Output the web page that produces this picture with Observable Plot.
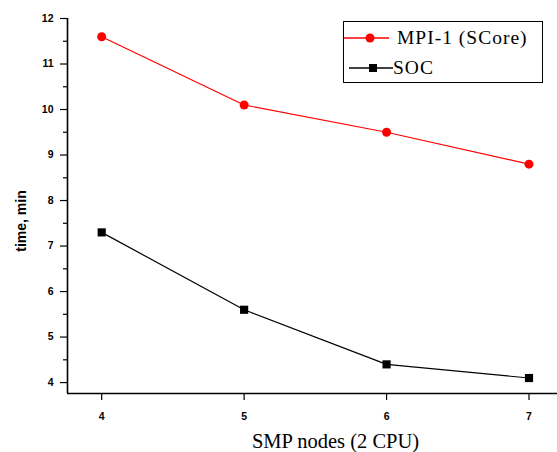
<!DOCTYPE html>
<html><head><meta charset="utf-8">
<script src="https://cdn.jsdelivr.net/npm/d3@7"></script>
<script src="https://cdn.jsdelivr.net/npm/@observablehq/plot@0.6"></script>
<style>
body{margin:0;background:#fff;}
#wrap{position:relative;width:557px;height:452px;}
#legend{position:absolute;left:343px;top:21px;width:200px;height:62px;border:1.5px solid #000;background:#fff;font-family:"Liberation Serif",serif;font-size:19.5px;box-sizing:border-box;}
.row{position:absolute;left:0;display:flex;align-items:center;white-space:nowrap;}
.row svg{display:block}
</style>
</head><body>
<div id="wrap"><div id="chart"></div><div id="legend"></div></div>
<script>
const nodes = [4, 5, 6, 7];
const mpiTime = [11.6, 10.1, 9.5, 8.8];
const socTime = [7.3, 5.6, 4.4, 4.1];
const seriesNames = ["MPI-1 (SCore)", "SOC"];
const seriesColors = ["#ff0000", "#000000"];
const xTicks = [4, 5, 6, 7];
const yTicks = [4, 5, 6, 7, 8, 9, 10, 11, 12];
const yMinorTicks = [4.5, 5.5, 6.5, 7.5, 8.5, 9.5, 10.5, 11.5];

const mpi = nodes.map((n, i) => ({n, t: mpiTime[i]}));
const soc = nodes.map((n, i) => ({n, t: socTime[i]}));
const x0 = 3.76, x1 = 7.2, y0 = 3.76, y1 = 12;

const chart = Plot.plot({
  width: 557, height: 452,
  marginLeft: 67, marginRight: 0, marginTop: 18, marginBottom: 59,
  x: {domain: [x0, x1]},
  y: {domain: [y0, y1]},
  style: {fontFamily: "Liberation Sans, Arial, sans-serif", background: "#fff"},
  marks: [
    Plot.axisY(yTicks, {tickSize: 7, tickPadding: 7, fontSize: 10.5, fontWeight: "bold", strokeWidth: 1.2, tickFormat: d => String(d), label: null}),
    Plot.axisY(yMinorTicks, {tickSize: 4, tickFormat: () => "", strokeWidth: 1.2, label: null}),
    Plot.axisX(xTicks, {tickSize: 7, tickPadding: 12, fontSize: 10.5, fontWeight: "bold", strokeWidth: 1.2, tickFormat: d => String(d), label: null}),
    Plot.ruleX([x0], {y1: y0, y2: y1, strokeWidth: 1.6}),
    Plot.ruleY([y0], {x1: x0, x2: x1, strokeWidth: 1.6}),
    Plot.line(mpi, {x: "n", y: "t", stroke: seriesColors[0], strokeWidth: 1.2}),
    Plot.dot(mpi, {x: "n", y: "t", r: 4.5, fill: seriesColors[0], stroke: null}),
    Plot.line(soc, {x: "n", y: "t", stroke: seriesColors[1], strokeWidth: 1.2}),
    Plot.dot(soc, {x: "n", y: "t", symbol: "square", r: 4.6, fill: seriesColors[1], stroke: null}),
    Plot.text(["time, min"], {frameAnchor: "left", textAnchor: "middle", dx: -46, dy: 15, rotate: -90, fontSize: 14, fontWeight: "bold", letterSpacing: 1, fill: "#000"}),
    Plot.text(["SMP nodes (2 CPU)"], {frameAnchor: "bottom", dx: 23, dy: 54, fontSize: 20.5, fontFamily: "Liberation Serif, serif", fill: "#000", letterSpacing: 1.5})
  ]
});
document.getElementById("chart").appendChild(chart);

const legend = document.getElementById("legend");
seriesNames.forEach((name, i) => {
  const row = document.createElement("div");
  row.className = "row";
  row.style.top = (i === 0 ? 5 : 35) + "px";
  const marker = i === 0
    ? `<circle cx="26" cy="11" r="4.5" fill="${seriesColors[i]}"/>`
    : `<rect x="25" y="7" width="8" height="8" fill="${seriesColors[i]}"/>`;
  const lineStart = i === 0 ? 0 : 5;
  const lineEnd = i === 0 ? 45 : 49;
  row.innerHTML = `<svg width="${i === 0 ? 53 : 49}" height="22"><line x1="${lineStart}" x2="${lineEnd}" y1="11" y2="11" stroke="${seriesColors[i]}" stroke-width="1.3"/>${marker}</svg><span style="letter-spacing:1px">${name}</span>`;
  legend.appendChild(row);
});
</script>
</body></html>
